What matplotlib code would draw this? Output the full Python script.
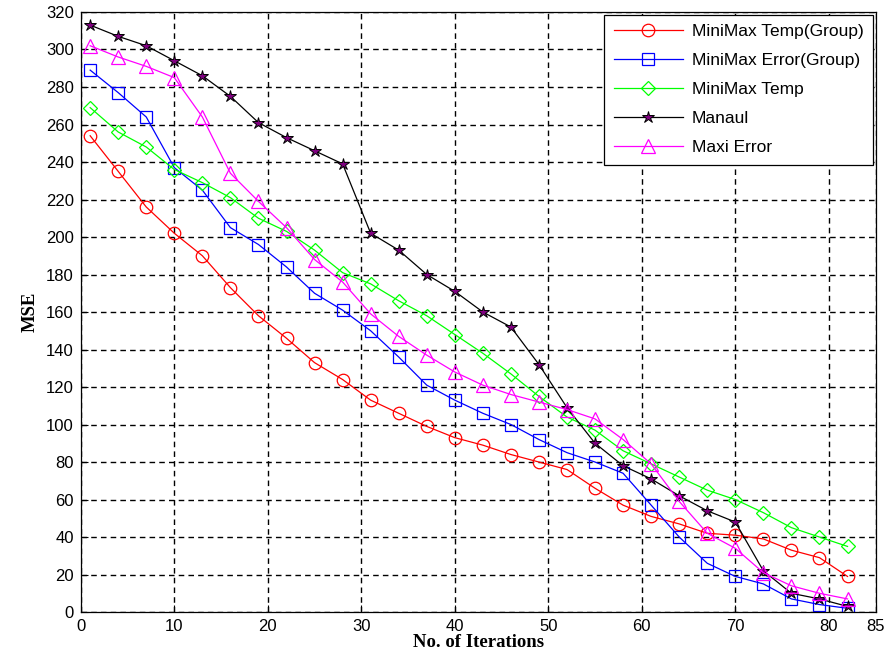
import matplotlib
matplotlib.use("Agg")
import matplotlib.pyplot as plt

x = [1, 4, 7, 10, 13, 16, 19, 22, 25, 28, 31, 34, 37, 40, 43, 46, 49, 52, 55, 58, 61, 64, 67, 70, 73, 76, 79, 82]

minimax_temp_group = [254, 235, 216, 202, 190, 173, 158, 146, 133, 124, 113, 106, 99, 93, 89, 84, 80, 76, 66, 57, 51, 47, 42, 41, 39, 33, 29, 19]
minimax_error_group = [289, 277, 264, 237, 225, 205, 196, 184, 170, 161, 150, 136, 121, 113, 106, 100, 92, 85, 80, 74, 57, 40, 26, 19, 15, 7, 4, 2]
minimax_temp = [269, 256, 248, 236, 229, 221, 210, 203, 193, 181, 175, 166, 158, 148, 138, 127, 115, 104, 97, 86, 79, 72, 65, 60, 53, 45, 40, 35]
manaul = [313, 307, 302, 294, 286, 275, 261, 253, 246, 239, 202, 193, 180, 171, 160, 152, 132, 109, 90, 78, 71, 62, 54, 48, 22, 10, 7, 3]
maxi_error = [302, 296, 291, 285, 264, 234, 219, 205, 188, 176, 159, 147, 137, 128, 121, 116, 112, 108, 103, 92, 79, 59, 42, 34, 21, 14, 10, 7]

labels = ["MiniMax Temp(Group)", "MiniMax Error(Group)", "MiniMax Temp", "Manaul", "Maxi Error"]
xticks = [0, 10, 20, 30, 40, 50, 60, 70, 80, 85]
yticks = list(range(0, 321, 20))

plt.rcParams['font.family'] = ['Liberation Sans', 'DejaVu Sans']

fig = plt.figure(figsize=(8.88, 6.66), dpi=100)
ax = fig.add_axes([0.091, 0.081, 0.895, 0.901])

ax.plot(x, minimax_temp_group, color='#ff0000', lw=0.9, marker='o', ms=9, mfc='none', mec='#ff0000', mew=0.9, label=labels[0])
ax.plot(x, minimax_error_group, color='#0000ff', lw=0.9, marker='s', ms=9, mfc='none', mec='#0000ff', mew=0.9, label=labels[1])
ax.plot(x, minimax_temp, color='#00ff00', lw=0.9, marker='D', ms=7.5, mfc='none', mec='#00ff00', mew=0.9, label=labels[2])
ax.plot(x, manaul, color='black', lw=0.9, marker='*', ms=9, mfc='#800080', mec='black', mew=0.7, label=labels[3])
ax.plot(x, maxi_error, color='#ff00ff', lw=0.9, marker='^', ms=10, mfc='none', mec='#ff00ff', mew=0.9, label=labels[4])

ax.set_xlim(0, 85)
ax.set_ylim(0, 320)
ax.set_xticks(xticks)
ax.set_yticks(yticks)
ax.tick_params(direction='in', length=5, labelsize=12, top=False, right=False, width=0.8, pad=5)
ax.grid(True, color='black', linestyle=(0, (4, 3)), linewidth=1.0)
for s in ax.spines.values():
    s.set_linewidth(0.9)

ax.set_xlabel("No. of Iterations", family=['Liberation Serif', 'DejaVu Serif'], fontweight='bold', fontsize=13.5, labelpad=0)
ax.set_ylabel("MSE", family=['Liberation Serif', 'DejaVu Serif'], fontweight='bold', fontsize=13.5, labelpad=5)

leg = ax.legend(loc='upper right', fontsize=12.5, fancybox=False, framealpha=1, edgecolor='black',
                handlelength=4.0, borderaxespad=0.15, labelspacing=0.8, borderpad=0.55, handletextpad=0.5)
leg.get_frame().set_linewidth(0.9)

fig.savefig("out.png", dpi=100)
